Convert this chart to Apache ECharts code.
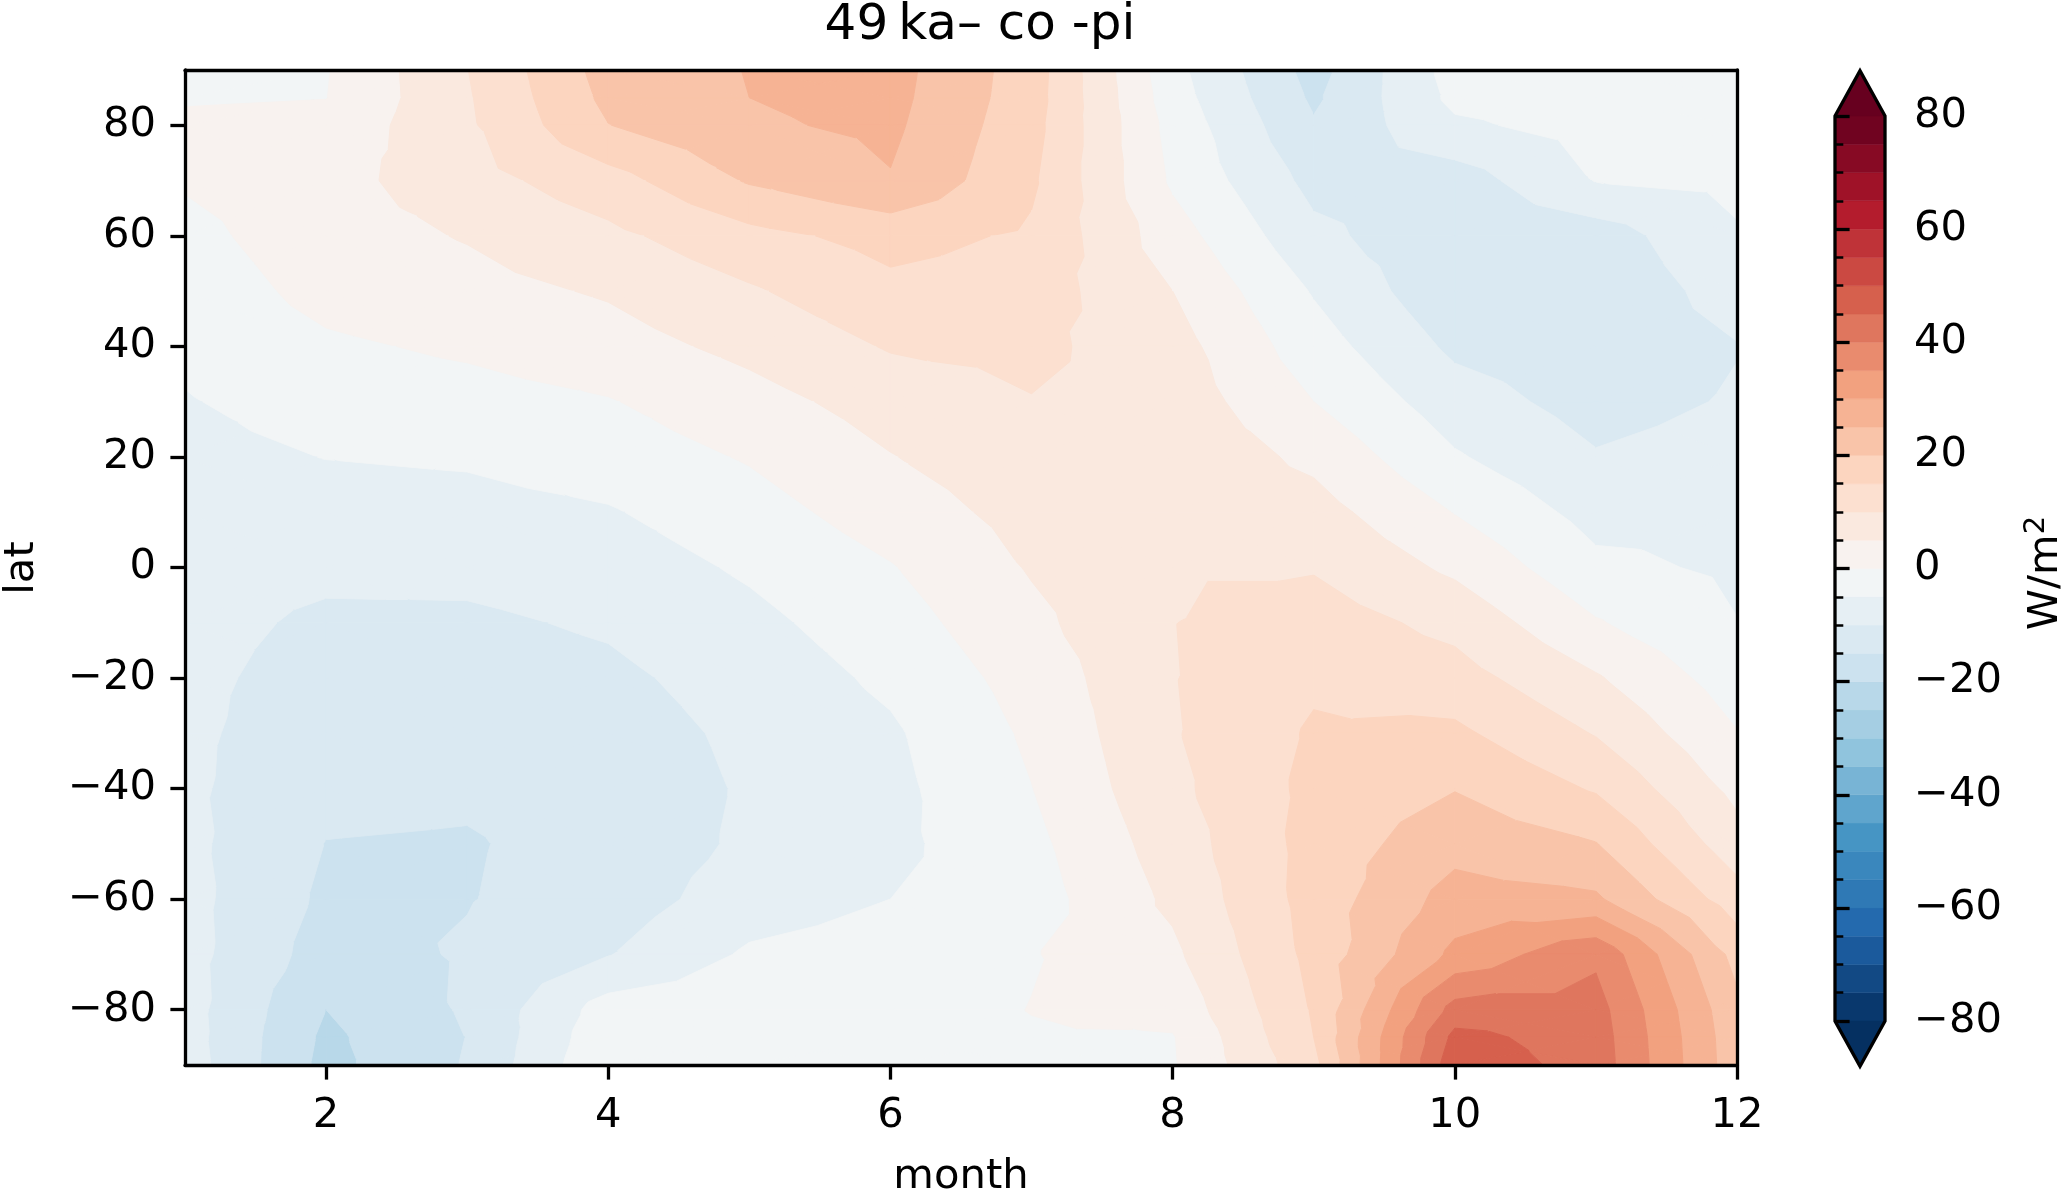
<!DOCTYPE html>
<html>
<head>
<meta charset="utf-8">
<title>49 ka - co - pi</title>
<script src="https://cdn.jsdelivr.net/npm/echarts@6.0.0/dist/echarts.min.js"></script>
<style>
html, body { margin: 0; padding: 0; background: #fff; }
#chart { width: 2067px; height: 1194px; }
</style>
</head>
<body>
<div id="chart"></div>
<script>
// grid of the field: month columns, latitude rows (north to south)
var months = [1, 2, 3, 4, 5, 6, 7, 8, 9, 10, 11, 12];
var lats = [90, 85, 80, 70, 60, 50, 40, 30, 20, 10, 0, -10, -20, -30, -40, -50, -60, -70, -80, -85, -90];

// W/m2 anomaly, one list per month, same order as lats
var jan = [-2.0, -0.5, 1.0, 0.5, -1.5, -3.0, -4.0, -5.3, -6.5, -7.5, -8.0, -8.5, -8.8, -9.0, -9.1, -8.8, -8.4, -8.2, -8.0, -7.8, -7.5];
var feb = [-0.3, -0.1, 1.5, 3.2, 3.0, 1.6, -0.8, -2.9, -4.9, -7.0, -9.0, -10.8, -12.0, -12.9, -13.8, -15.1, -15.9, -17.2, -20.0, -21.0, -21.5];
var mar = [9.9, 9.5, 9.2, 8.0, 5.3, 3.4, 0.8, -1.9, -4.4, -6.6, -8.8, -10.8, -12.2, -13.2, -14.2, -15.4, -15.2, -14.5, -14.4, -14.9, -14.6];
var apr = [22.0, 21.2, 19.9, 13.0, 8.8, 5.5, 3.0, -0.3, -2.6, -5.4, -7.6, -9.4, -11.0, -12.2, -12.8, -13.0, -12.6, -10.2, -2.8, -1.5, -0.5];
var may = [25.2, 25.0, 24.3, 20.5, 13.5, 9.4, 6.3, 3.2, 0.4, -2.0, -4.3, -6.3, -8.0, -9.0, -9.5, -9.2, -7.5, -4.3, -2.0, -1.5, -1.2];
var jun = [26.8, 26.5, 26.0, 24.7, 16.7, 13.7, 10.4, 7.1, 4.8, 2.4, -0.3, -2.2, -4.0, -5.7, -6.3, -6.2, -5.0, -2.8, -2.0, -1.8, -1.6];
var jul = [17.5, 17.3, 16.8, 15.8, 14.3, 12.6, 11.2, 9.8, 8.3, 6.8, 5.4, 3.8, 2.0, 0.8, -0.1, -1.3, -2.2, -0.3, 0.1, -0.4, -1.0];
var aug = [-3.5, -2.8, -1.8, -0.8, 2.2, 5.0, 7.0, 8.0, 8.8, 9.3, 9.6, 9.9, 9.8, 9.6, 8.8, 7.4, 6.0, 4.0, 1.5, -0.3, -0.5];
var sep = [-16.8, -15.8, -14.5, -11.5, -8.8, -5.4, -2.8, 0.0, 3.8, 7.0, 9.6, 12.5, 14.2, 15.6, 16.3, 16.8, 17.0, 16.5, 15.5, 15.0, 13.5];
var oct = [-3.0, -3.8, -5.8, -12.5, -13.5, -13.8, -11.0, -7.7, -4.5, -0.2, 4.0, 8.5, 12.0, 16.0, 19.8, 23.3, 27.0, 31.2, 42.0, 46.5, 48.5];
var nov = [-2.0, -2.5, -3.2, -4.8, -12.5, -13.5, -13.2, -12.0, -9.6, -6.8, -3.8, 0.4, 5.5, 9.7, 14.5, 20.2, 25.8, 39.0, 42.0, 42.6, 42.9];
var dec = [-1.5, -1.8, -2.3, -3.8, -5.5, -8.0, -10.2, -9.5, -7.8, -6.2, -5.8, -4.9, -2.6, 0.2, 3.6, 7.0, 12.2, 18.3, 21.2, 21.8, 22.0];

// contour levels and tick labels
var levels = [-80, -75, -70, -65, -60, -55, -50, -45, -40, -35, -30, -25, -20, -15, -10, -5, 0,
              5, 10, 15, 20, 25, 30, 35, 40, 45, 50, 55, 60, 65, 70, 75, 80];
var monthTicks = [2, 4, 6, 8, 10, 12];
var latTicks = [-80, -60, -40, -20, 0, 20, 40, 60, 80];

var cols = [jan, feb, mar, apr, may, jun, jul, aug, sep, oct, nov, dec];

// RdBu reversed, colorbrewer anchors
var anchors = [
    [5, 48, 97], [33, 102, 172], [67, 147, 195], [146, 197, 222], [209, 229, 240],
    [247, 247, 247], [253, 219, 199], [244, 165, 130], [214, 96, 77], [178, 24, 43], [103, 0, 31]
];
function rdbu_r(t) {
    var idx = Math.min(255, Math.max(0, Math.floor(t * 256)));
    var x = idx / 255 * 10;
    var i = Math.min(9, Math.floor(x));
    var f = x - i;
    var a = anchors[i], b = anchors[i + 1];
    return 'rgb(' + Math.round(a[0] + f * (b[0] - a[0])) + ',' +
        Math.round(a[1] + f * (b[1] - a[1])) + ',' +
        Math.round(a[2] + f * (b[2] - a[2])) + ')';
}
var bandColors = [];
for (var k = 0; k < levels.length - 1; k++) {
    bandColors.push(rdbu_r(((levels[k] + levels[k + 1]) / 2 + 80) / 160));
}
var underColor = rdbu_r(0), overColor = rdbu_r(1);

var FONT = 'DejaVu Sans';
var FS = 41.7;
var LW = 3.3;

function minus(v) { return String(v).replace('-', '\u2212'); }

// keep the part of a polygon above (or below) level c, values in p[2]
function clipPoly(pts, c, above) {
    var out = [];
    for (var n = 0; n < pts.length; n++) {
        var a = pts[n], b = pts[(n + 1) % pts.length];
        var ina = above ? a[2] >= c : a[2] <= c;
        var inb = above ? b[2] >= c : b[2] <= c;
        if (ina) out.push(a);
        if (ina !== inb) {
            var t = (c - a[2]) / (b[2] - a[2]);
            out.push([a[0] + t * (b[0] - a[0]), a[1] + t * (b[1] - a[1]), c]);
        }
    }
    return out;
}

function renderCell(params, api) {
    var i = api.value(0), j = api.value(1);
    var x0 = months[i], x1 = months[i + 1], y0 = lats[j], y1 = lats[j + 1];
    var a = [x0, y0, cols[i][j]], b = [x1, y0, cols[i + 1][j]];
    var c = [x1, y1, cols[i + 1][j + 1]], d = [x0, y1, cols[i][j + 1]];
    var m = [(x0 + x1) / 2, (y0 + y1) / 2, (a[2] + b[2] + c[2] + d[2]) / 4];
    var tris = [[a, b, m], [b, c, m], [c, d, m], [d, a, m]];
    var children = [];
    tris.forEach(function (tri) {
        var vmin = Math.min(tri[0][2], tri[1][2], tri[2][2]);
        var vmax = Math.max(tri[0][2], tri[1][2], tri[2][2]);
        for (var k = 0; k < levels.length - 1; k++) {
            var lo = levels[k], hi = levels[k + 1];
            if (hi < vmin || lo > vmax) continue;
            var poly = clipPoly(clipPoly(tri, lo, true), hi, false);
            if (poly.length < 3) continue;
            var pts = poly.map(function (p) { return api.coord([p[0], p[1]]); });
            children.push({
                type: 'polygon',
                shape: { points: pts },
                style: { fill: bandColors[k], stroke: bandColors[k], lineWidth: 1 }
            });
        }
    });
    return { type: 'group', children: children };
}

var cells = [];
for (var i = 0; i < months.length - 1; i++) {
    for (var j = 0; j < lats.length - 1; j++) {
        cells.push([i, j, months[i], lats[j]]);
    }
}

var bands = [];
for (var k = 0; k < levels.length - 1; k++) {
    bands.push([levels[k], levels[k + 1], k]);
}

function renderBand(params, api) {
    var p0 = api.coord([0, api.value(0)]);
    var p1 = api.coord([1, api.value(1)]);
    return {
        type: 'rect',
        shape: { x: p0[0], y: p1[1], width: p1[0] - p0[0], height: p0[1] - p1[1] },
        style: { fill: bandColors[api.value(2)], stroke: bandColors[api.value(2)], lineWidth: 0.5 }
    };
}

function renderOutline(params, api) {
    var tl = api.coord([0, levels[levels.length - 1]]);
    var tr = api.coord([1, levels[levels.length - 1]]);
    var bl = api.coord([0, levels[0]]);
    var br = api.coord([1, levels[0]]);
    var ext = (bl[1] - tl[1]) * 0.05;
    var mx = (tl[0] + tr[0]) / 2;
    var topTip = [mx, tl[1] - ext], botTip = [mx, bl[1] + ext];
    return {
        type: 'group',
        children: [
            { type: 'polygon', shape: { points: [tl, topTip, tr] }, style: { fill: overColor, stroke: overColor, lineWidth: 0.5 } },
            { type: 'polygon', shape: { points: [bl, br, botTip] }, style: { fill: underColor, stroke: underColor, lineWidth: 0.5 } },
            { type: 'polygon', shape: { points: [tl, topTip, tr, br, botTip, bl] }, style: { fill: null, stroke: '#000', lineWidth: LW } }
        ]
    };
}

var chart = echarts.init(document.getElementById('chart'));
var option = {
    backgroundColor: '#fff',
    animation: false,
    textStyle: { fontFamily: FONT },
    grid: [
        { left: 185, top: 70, width: 1552, height: 995 },
        { left: 1835, top: 116, width: 50, height: 905 }
    ],
    xAxis: [
        {
            type: 'value', gridIndex: 0, min: 1, max: 12, z: 10,
            axisLine: { onZero: false, lineStyle: { color: '#000', width: LW } },
            axisTick: { customValues: monthTicks, length: 14.6, lineStyle: { color: '#000', width: LW } },
            axisLabel: { customValues: monthTicks, margin: 30, color: '#000', fontSize: FS, fontFamily: FONT },
            splitLine: { show: false }
        },
        {
            type: 'value', gridIndex: 0, min: 1, max: 12, position: 'top', z: 10,
            axisLine: { onZero: false, lineStyle: { color: '#000', width: LW } },
            axisTick: { show: false }, axisLabel: { show: false }, splitLine: { show: false }
        },
        { type: 'value', gridIndex: 1, min: 0, max: 1, show: false }
    ],
    yAxis: [
        {
            type: 'value', gridIndex: 0, min: -90, max: 90, z: 10,
            axisLine: { onZero: false, lineStyle: { color: '#000', width: LW } },
            axisTick: { customValues: latTicks, length: 14.6, lineStyle: { color: '#000', width: LW } },
            axisLabel: { customValues: latTicks, margin: 29, color: '#000', fontSize: FS, fontFamily: FONT, formatter: minus },
            splitLine: { show: false }
        },
        {
            type: 'value', gridIndex: 0, min: -90, max: 90, position: 'right', z: 10,
            axisLine: { onZero: false, lineStyle: { color: '#000', width: LW } },
            axisTick: { show: false }, axisLabel: { show: false }, splitLine: { show: false }
        },
        {
            type: 'value', gridIndex: 1, min: -80, max: 80, interval: 20, position: 'right', z: 10,
            axisLine: { show: false },
            axisTick: { length: 14.6, lineStyle: { color: '#000', width: LW } },
            minorTick: { show: true, splitNumber: 4, length: 8.3, lineStyle: { color: '#000', width: 2.5 } },
            axisLabel: { margin: 29, color: '#000', fontSize: FS, fontFamily: FONT, formatter: minus },
            splitLine: { show: false }, minorSplitLine: { show: false }
        }
    ],
    series: [
        {
            type: 'custom', name: 'anomaly', xAxisIndex: 0, yAxisIndex: 0,
            data: cells, encode: { x: 2, y: 3 }, clip: true, z: 1,
            renderItem: renderCell, silent: true
        },
        {
            type: 'custom', name: 'colorbar', xAxisIndex: 2, yAxisIndex: 2,
            data: bands, encode: { y: [0, 1] }, z: 1,
            renderItem: renderBand, silent: true
        },
        {
            type: 'custom', name: 'colorbar-outline', xAxisIndex: 2, yAxisIndex: 2,
            data: [[0]], z: 3,
            renderItem: renderOutline, silent: true
        }
    ],
    graphic: [
        { type: 'text', x: 980, y: 26, style: { text: '49\u2009ka\u2013 co -pi', font: '50px "DejaVu Sans"', fill: '#000', textAlign: 'center', textVerticalAlign: 'middle' } },
        { type: 'text', x: 961, y: 1177, style: { text: 'month', font: FS + 'px "DejaVu Sans"', fill: '#000', textAlign: 'center', textVerticalAlign: 'middle' } },
        { type: 'text', x: 22, y: 568, rotation: Math.PI / 2, style: { text: 'lat', font: FS + 'px "DejaVu Sans"', fill: '#000', textAlign: 'center', textVerticalAlign: 'middle' } },
        {
            type: 'text', x: 2046, y: 573, rotation: Math.PI / 2,
            style: {
                text: 'W/m{s|2}', font: FS + 'px "DejaVu Sans"', fill: '#000', textAlign: 'center', textVerticalAlign: 'middle',
                rich: { s: { fontSize: 29, fontFamily: FONT, fill: '#000', verticalAlign: 'top', lineHeight: 48 } }
            }
        }
    ]
};
chart.setOption(option);
</script>
</body>
</html>
